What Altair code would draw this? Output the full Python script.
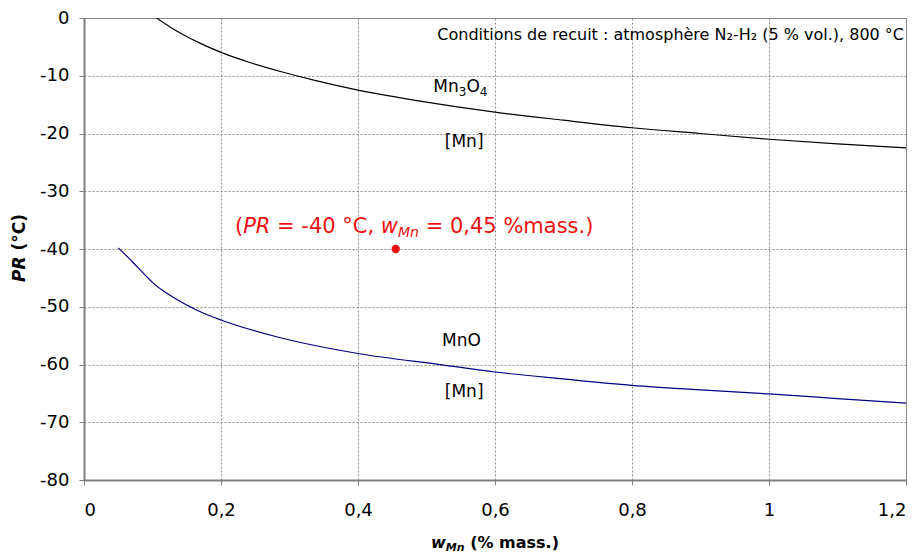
import altair as alt
import pandas as pd

# ---- data ----
mn3o4_x = [0.106, 0.125, 0.145, 0.17, 0.2, 0.242, 0.291, 0.34, 0.4, 0.486, 0.6, 0.7, 0.8, 0.9, 1.0, 1.1, 1.2]
mn3o4_y = [0.0, -1.5, -2.9, -4.4, -5.95, -7.7, -9.4, -10.9, -12.5, -14.3, -16.3, -17.7, -19.0, -20.0, -21.0, -21.8, -22.5]

mno_x = [0.05, 0.064, 0.077, 0.09, 0.101, 0.115, 0.135, 0.165, 0.2, 0.281, 0.4, 0.525, 0.6, 0.7, 0.8, 0.9, 1.0, 1.1, 1.2]
mno_y = [-39.8, -41.4, -43.0, -44.6, -45.9, -47.2, -48.7, -50.6, -52.3, -55.2, -58.1, -60.1, -61.3, -62.5, -63.6, -64.4, -65.1, -65.9, -66.7]

point_x = [0.455]
point_y = [-40]

x_ticks = [0, 0.2, 0.4, 0.6, 0.8, 1.0, 1.2]
y_ticks = [0, -10, -20, -30, -40, -50, -60, -70, -80]

FONT = "DejaVu Sans"
RED = "#f01010"
GRID = "#8c8c8c"

# approximate DejaVu Sans advance widths (per 1000 em)
W_REG = {" ": 318, "(": 390, ")": 390, ",": 318, "-": 361, ".": 318, "=": 838, "%": 950,
         "°": 500, "C": 698, "M": 863, "O": 787, "P": 603, "R": 695, "a": 613, "m": 974, "n": 634,
         "s": 521, "w": 818}
W_BOLD = {" ": 348, "(": 457, ")": 457, ",": 380, "-": 415, ".": 380, "%": 1002, "°": 500,
          "C": 734, "M": 995, "P": 733, "R": 770, "a": 675, "m": 1042, "n": 712, "s": 595,
          "w": 924}
for d in "0123456789":
    W_REG[d] = 636
    W_BOLD[d] = 696


def tw(s, size, bold=False):
    tbl = W_BOLD if bold else W_REG
    return sum(tbl.get(c, 600) for c in s) * size / 1000.0


dummy = pd.DataFrame({"k": [0]})


def rich_text(segments, x_enc, y_enc, color="black", angle=None):
    """segments: list of (text, size, italic, bold, dy); returns text layers laid out left to right."""
    layers = []
    off = 0.0
    for text, size, italic, bold, dy in segments:
        lead = len(text) - len(text.lstrip(" "))
        off += tw(" " * lead, size, bold)
        shown = text.strip(" ")
        kw = dict(align="left", baseline="middle", font=FONT, fontSize=size,
                  color=color, dx=off, dy=dy)
        if italic:
            kw["fontStyle"] = "italic"
        if bold:
            kw["fontWeight"] = "bold"
        if angle is not None:
            kw["angle"] = angle
        layers.append(alt.Chart(dummy).mark_text(**kw).encode(
            x=x_enc, y=y_enc, text=alt.value(shown)))
        off += tw(text[lead:], size, bold)
    return layers


x_scale = alt.Scale(domain=[0, 1.2], nice=False, zero=False)
y_scale = alt.Scale(domain=[-80, 0], nice=False, zero=False)

df1 = pd.DataFrame({"x": mn3o4_x, "y": mn3o4_y})
df2 = pd.DataFrame({"x": mno_x, "y": mno_y})
dfp = pd.DataFrame({"x": point_x, "y": point_y})

x_axis = alt.Axis(values=x_ticks, title=None,
                  labelExpr="replace(format(datum.value, '.1~f'), '.', ',')")
y_axis = alt.Axis(values=y_ticks, title=None,
                  labelExpr="datum.value == 0 ? '0' : '-' + toString(abs(datum.value))")

line1 = alt.Chart(df1).mark_line(color="black", strokeWidth=1.2, interpolate="monotone").encode(
    x=alt.X("x:Q", scale=x_scale, axis=x_axis),
    y=alt.Y("y:Q", scale=y_scale, axis=y_axis),
)
line2 = alt.Chart(df2).mark_line(color="#000080", strokeWidth=1.2, interpolate="monotone").encode(
    x=alt.X("x:Q", scale=x_scale),
    y=alt.Y("y:Q", scale=y_scale),
)
pt = alt.Chart(dfp).mark_point(filled=True, color=RED, size=70, opacity=1).encode(
    x=alt.X("x:Q", scale=x_scale),
    y=alt.Y("y:Q", scale=y_scale),
)

labels_df = pd.DataFrame({
    "x": [0.555, 0.551, 0.555],
    "y": [-21.5, -56.0, -64.8],
    "t": ["[Mn]", "MnO", "[Mn]"],
})
labels = alt.Chart(labels_df).mark_text(font=FONT, fontSize=17, color="black",
                                        align="center", baseline="middle").encode(
    x=alt.X("x:Q", scale=x_scale), y=alt.Y("y:Q", scale=y_scale), text="t:N")

mn3o4_layers = rich_text(
    [("Mn", 17, False, False, 0), ("3", 12, False, False, 5),
     ("O", 17, False, False, 0), ("4", 12, False, False, 5)],
    alt.datum(0.51), alt.datum(-12.0))

note = alt.Chart(dummy).mark_text(font=FONT, fontSize=16, color="black", align="right",
                                  baseline="middle", dx=-2).encode(
    x=alt.datum(1.2), y=alt.datum(-3.0),
    text=alt.value("Conditions de recuit : atmosphère N₂-H₂ (5 % vol.), 800 °C"))

red_layers = rich_text(
    [("(", 21, False, False, 0),
     ("PR", 21, True, False, 0),
     (" = -40 °C, ", 21, False, False, 0),
     ("w", 21, True, False, 0),
     ("Mn", 14, True, False, 6),
     (" = 0,45 %mass.)", 21, False, False, 0)],
    alt.datum(0.2204), alt.datum(-36.2), color=RED)

xt_layers = rich_text(
    [("w", 16, True, True, 0), ("Mn", 11, True, True, 5), (" (% mass.)", 16, False, True, 0)],
    alt.value(347), alt.value(525))

yt_layers = rich_text(
    [("PR", 17, True, True, 0), (" (°C)", 17, False, True, 0)],
    alt.value(-64), alt.value(264), angle=270)

chart = alt.layer(line1, line2, pt, labels, note, *mn3o4_layers, *red_layers,
                  *xt_layers, *yt_layers).properties(
    width=822, height=462,
    autosize=alt.AutoSizeParams(type="none"),
    padding={"left": 76, "top": 10, "right": 9, "bottom": 75},
    background="white",
).configure_axis(
    labelFont=FONT, labelFontSize=18, labelColor="black",
    tickSize=5, tickColor="#808080", domainColor="#808080", domainWidth=2,
    grid=True, gridColor=GRID, gridDash=[2, 2], gridWidth=1,
).configure_axisX(labelPadding=16).configure_axisY(labelPadding=10).configure_view(
    stroke="#808080", strokeWidth=1
)

chart.save("out.html", embed_options={"renderer": "svg", "actions": False})
